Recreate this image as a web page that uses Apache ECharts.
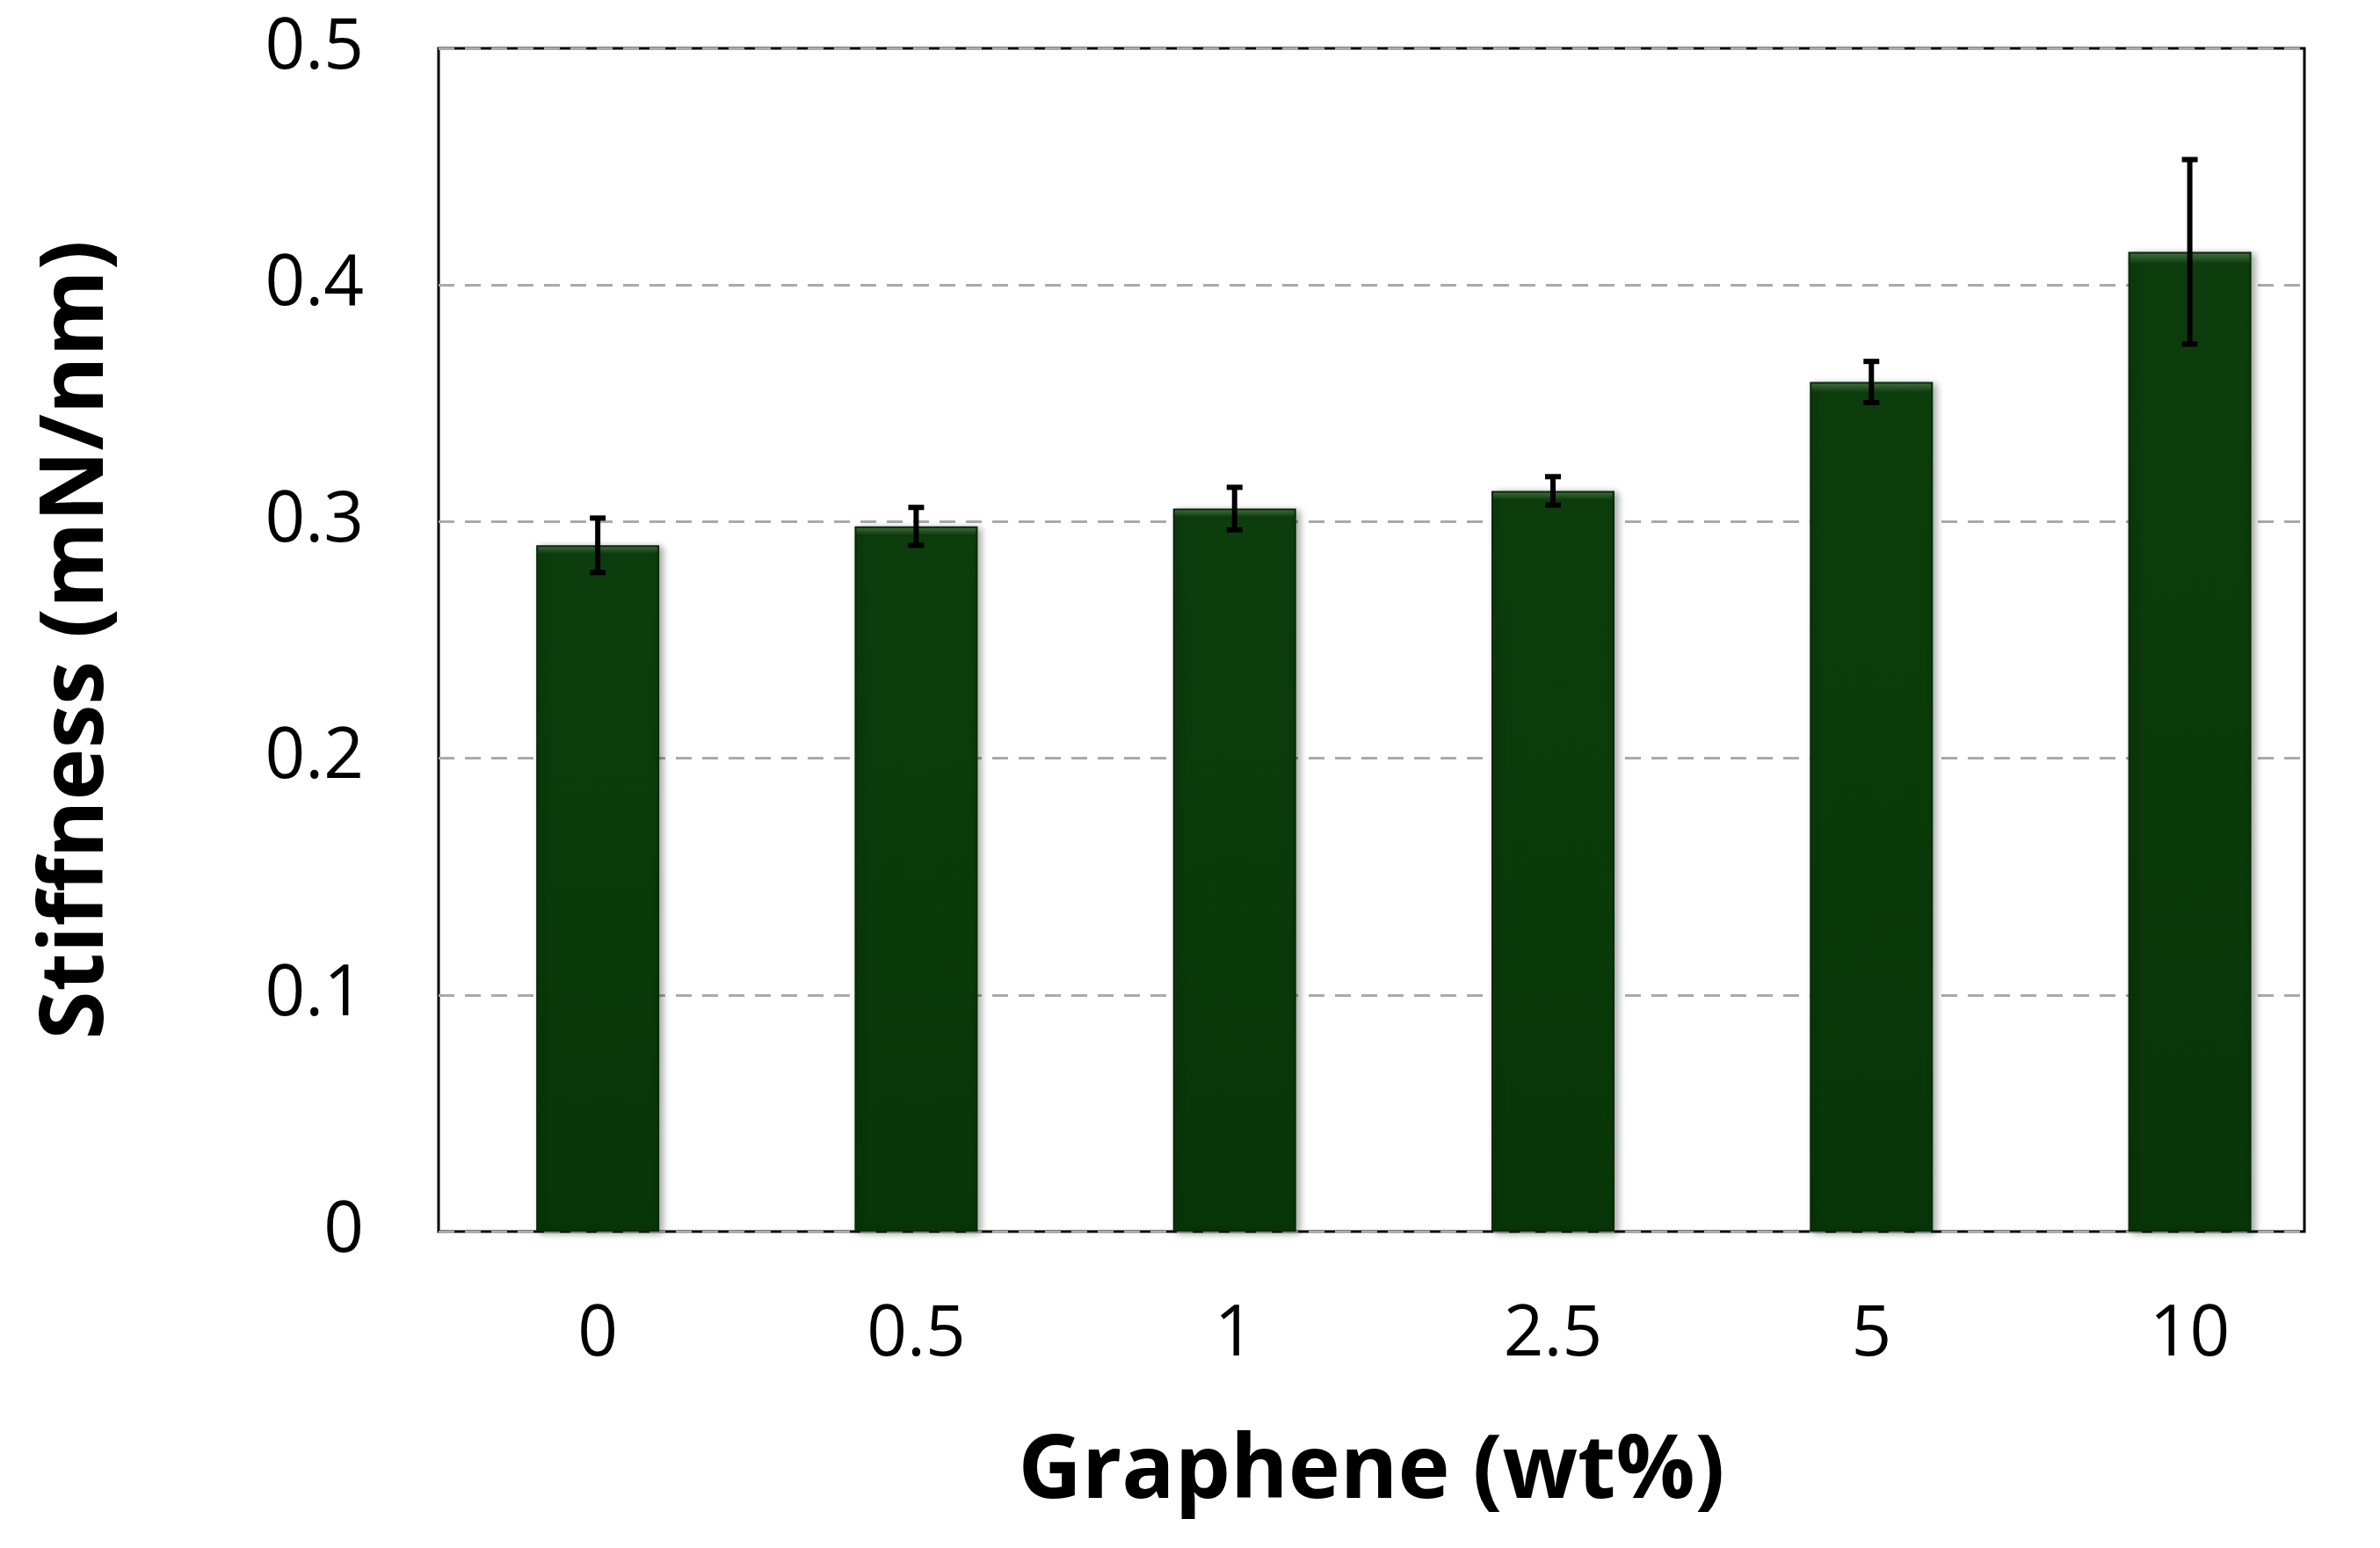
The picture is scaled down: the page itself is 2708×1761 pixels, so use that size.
<!DOCTYPE html>
<html><head><meta charset="utf-8">
<script src="https://cdn.jsdelivr.net/npm/echarts@6/dist/echarts.min.js"></script>
<style>html,body{margin:0;padding:0;background:#fff}#c{width:2708px;height:1761px}</style>
</head><body><div id="c"></div>
<script>
const categories = ['0','0.5','1','2.5','5','10'];
const values = [0.290, 0.298, 0.3055, 0.313, 0.359, 0.414];
const errors = [0.0115, 0.008, 0.009, 0.006, 0.0087, 0.039];
const yTicks = [0, 0.1, 0.2, 0.3, 0.4, 0.5];

const chart = echarts.init(document.getElementById('c'));
const font = 'Open Sans';
chart.setOption({
  animation:false,
  grid:{left:499, right:86, top:55, bottom:360, show:true, borderColor:'#000', borderWidth:3, backgroundColor:'transparent'},
  xAxis:{type:'value', min:-0.5, max:5.36,
    axisLine:{show:false}, axisTick:{show:false}, splitLine:{show:false},
    axisLabel:{customValues:[0,1,2,3,4,5], formatter:v=>categories[Math.round(v)],
      fontFamily:font, fontSize:80, color:'#000', margin:78},
    name:'Graphene (wt%)', nameLocation:'middle', nameGap:225,
    nameTextStyle:{fontFamily:font, fontSize:100, fontWeight:'bold', color:'#000'}},
  yAxis:{type:'value', min:0, max:0.5, interval:0.1,
    axisLine:{show:false}, axisTick:{show:false},
    axisLabel:{fontFamily:font, fontSize:80, color:'#000', margin:85,
      formatter:v=>{const t=yTicks.find(x=>Math.abs(x-v)<1e-9);return t===undefined?'':String(t);}},
    splitLine:{show:true, lineStyle:{type:[18,12], color:'#aaa', width:3}},
    name:'Stiffness (mN/nm)', nameLocation:'middle', nameGap:360,
    nameTextStyle:{fontFamily:font, fontSize:100, fontWeight:'bold', color:'#000'}},
  series:[
    {type:'bar', data:values.map((v,i)=>[i,v]), barWidth:140,
      itemStyle:{color:new echarts.graphic.LinearGradient(0,0,0,1,[
        {offset:0,color:'#4f7a4c'},{offset:0.012,color:'#0d3d0d'},{offset:1,color:'#083608'}]),
        borderColor:'#062a06', borderWidth:2,
        shadowColor:'rgba(0,0,0,0.35)', shadowBlur:8, shadowOffsetX:4, shadowOffsetY:2}},
    {type:'custom', z:10, data:values.map((v,i)=>[i, v-errors[i], v+errors[i]]),
      renderItem:(params, api)=>{
        const lo=api.coord([api.value(0), api.value(1)]);
        const hi=api.coord([api.value(0), api.value(2)]);
        const w=9, st={stroke:'#000', lineWidth:6};
        return {type:'group', children:[
          {type:'line', shape:{x1:lo[0],y1:lo[1],x2:hi[0],y2:hi[1]}, style:st},
          {type:'line', shape:{x1:lo[0]-w,y1:lo[1],x2:lo[0]+w,y2:lo[1]}, style:st},
          {type:'line', shape:{x1:hi[0]-w,y1:hi[1],x2:hi[0]+w,y2:hi[1]}, style:st}]};
      }}
  ]
});
</script></body></html>
